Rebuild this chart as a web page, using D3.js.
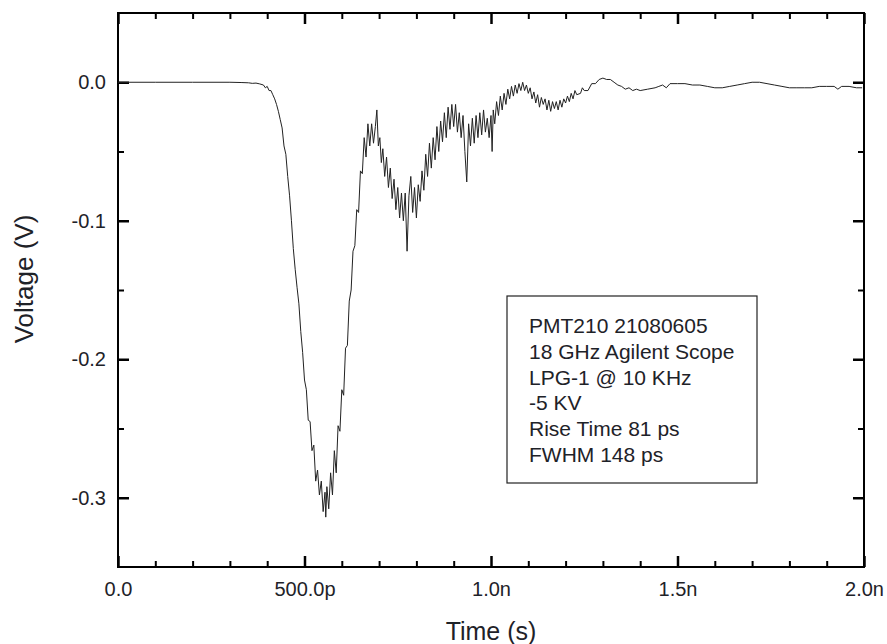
<!DOCTYPE html>
<html>
<head>
<meta charset="utf-8">
<script src="https://cdn.jsdelivr.net/npm/d3@7"></script>
<style>
  body { margin: 0; background: #fff; }
  svg text { font-family: Arial, "Liberation Sans", Helvetica, sans-serif; fill: #1e2228; }
</style>
</head>
<body>
<div id="chart"></div>
<script>
// trace: [time in ps, voltage in V]
const trace = [
  [0, 0], [100, 0], [200, 0], [300, 0], [330, -0.0002], [350, -0.0004], [360, -0.0008], [370, -0.0006],
  [380, -0.0012], [390, -0.002], [395, -0.004], [400, -0.003], [405, -0.006], [410, -0.006],
  [415, -0.009], [420, -0.012], [425, -0.016], [430, -0.021], [435, -0.027], [440, -0.033],
  [445, -0.046], [450, -0.052], [455, -0.068], [460, -0.082], [465, -0.100], [470, -0.120],
  [475, -0.135], [480, -0.148], [485, -0.160], [490, -0.180], [495, -0.195], [500, -0.215],
  [505, -0.222], [510, -0.244], [515, -0.245], [520, -0.266], [525, -0.262], [530, -0.288],
  [535, -0.280], [540, -0.298], [545, -0.288], [550, -0.310], [555, -0.296], [557, -0.314],
  [560, -0.292], [565, -0.308], [570, -0.282], [575, -0.298], [580, -0.266], [585, -0.282],
  [590, -0.248], [595, -0.252], [600, -0.222], [605, -0.226], [610, -0.192], [615, -0.190],
  [620, -0.158], [625, -0.150], [630, -0.122], [635, -0.118], [640, -0.092], [645, -0.094],
  [650, -0.064], [655, -0.066], [660, -0.040], [665, -0.054], [670, -0.030], [675, -0.046],
  [680, -0.030], [685, -0.044], [690, -0.032], [694, -0.020], [698, -0.046], [702, -0.040],
  [706, -0.058], [710, -0.048], [715, -0.068], [720, -0.054], [725, -0.076], [730, -0.062],
  [735, -0.084], [740, -0.070], [745, -0.092], [750, -0.076], [755, -0.098], [760, -0.080],
  [765, -0.100], [770, -0.080], [775, -0.122], [780, -0.082], [785, -0.068], [790, -0.094],
  [795, -0.076], [800, -0.098], [805, -0.074], [810, -0.086], [815, -0.064], [820, -0.078],
  [825, -0.052], [830, -0.068], [835, -0.044], [840, -0.062], [845, -0.040], [850, -0.056],
  [855, -0.032], [860, -0.050], [865, -0.028], [870, -0.043], [875, -0.022], [880, -0.040],
  [885, -0.018], [890, -0.034], [895, -0.016], [900, -0.032], [905, -0.016], [910, -0.036],
  [915, -0.022], [920, -0.040], [925, -0.024], [930, -0.050], [935, -0.072], [940, -0.030],
  [945, -0.046], [950, -0.026], [955, -0.044], [960, -0.024], [965, -0.040], [970, -0.022],
  [975, -0.038], [980, -0.020], [985, -0.036], [990, -0.026], [995, -0.040], [1000, -0.024],
  [1003, -0.050], [1006, -0.020], [1010, -0.030], [1015, -0.014], [1020, -0.024], [1025, -0.010],
  [1030, -0.020], [1035, -0.008], [1040, -0.016], [1045, -0.005], [1050, -0.012], [1055, -0.003],
  [1060, -0.010], [1065, -0.002], [1070, -0.008], [1075, -0.001], [1080, -0.006], [1085, 0.000],
  [1090, -0.006], [1095, -0.002], [1100, -0.008], [1105, -0.004], [1110, -0.012], [1115, -0.007],
  [1120, -0.015], [1125, -0.009], [1130, -0.018], [1135, -0.011], [1140, -0.016], [1145, -0.012],
  [1150, -0.020], [1155, -0.013], [1160, -0.021], [1165, -0.014], [1170, -0.019], [1175, -0.014],
  [1180, -0.020], [1185, -0.013], [1190, -0.018], [1195, -0.012], [1200, -0.015], [1205, -0.010],
  [1210, -0.014], [1215, -0.008], [1220, -0.012], [1225, -0.006], [1230, -0.009], [1240, -0.008],
  [1245, -0.004], [1250, -0.006], [1260, -0.006], [1270, -0.001], [1280, -0.001], [1290, 0.002],
  [1300, 0.003], [1310, 0.002], [1320, 0.002], [1330, 0.000],
  [1340, -0.002], [1350, -0.003], [1360, -0.005], [1370, -0.004], [1380, -0.006], [1390, -0.005],
  [1400, -0.006], [1420, -0.005], [1440, -0.004], [1450, -0.003], [1460, -0.002], [1470, -0.004],
  [1480, -0.001], [1500, -0.001], [1520, -0.001], [1540, -0.002], [1560, -0.002], [1580, -0.003],
  [1600, -0.004], [1620, -0.004], [1640, -0.003], [1660, -0.002], [1680, -0.001], [1700, 0.000],
  [1720, 0.000], [1740, -0.001], [1760, -0.002], [1780, -0.003], [1800, -0.004], [1820, -0.004],
  [1840, -0.004], [1860, -0.004], [1880, -0.003], [1900, -0.003], [1920, -0.003], [1930, -0.005],
  [1940, -0.003], [1960, -0.003], [1980, -0.004], [1995, -0.004]
];

const xMajor = [0, 500, 1000, 1500, 2000];
const xLabels = ["0.0", "500.0p", "1.0n", "1.5n", "2.0n"];
const xMinor = [100, 200, 300, 400, 600, 700, 800, 900, 1100, 1200, 1300, 1400, 1600, 1700, 1800, 1900];
const yMajor = [0, -0.1, -0.2, -0.3];
const yLabels = ["0.0", "-0.1", "-0.2", "-0.3"];
const yMinor = [-0.05, -0.15, -0.25];

const noteLines = [
  "PMT210 21080605",
  "18 GHz Agilent Scope",
  "LPG-1 @ 10 KHz",
  "-5 KV",
  "Rise Time 81 ps",
  "FWHM 148 ps"
];

const W = 887, H = 644;
const margin = {left: 118, top: 13, right: 23, bottom: 77};
const iw = W - margin.left - margin.right;
const ih = H - margin.top - margin.bottom;

let x = d3.scaleLinear().domain([0, 2000]).range([0, iw]);
let y = d3.scaleLinear().domain([-0.35, 0.05]).range([ih, 0]);

let svg = d3.select("#chart").append("svg")
  .attr("width", W)
  .attr("height", H);

let g = svg.append("g")
  .attr("transform", "translate(" + margin.left + "," + margin.top + ")");

function styleAxis(sel, width) {
  sel.select(".domain").remove();
  sel.selectAll("line").attr("stroke", "#000").attr("stroke-width", width);
  sel.selectAll("text").style("font-size", "20px").attr("fill", "#1e2228");
}

// bottom axis, ticks point inward
g.append("g").attr("transform", "translate(0," + ih + ")")
  .call(d3.axisBottom(x).tickValues(xMajor).tickSize(-11).tickPadding(15)
    .tickFormat((d, i) => xLabels[i]))
  .call(styleAxis, 2.5);
g.append("g").attr("transform", "translate(0," + ih + ")")
  .call(d3.axisBottom(x).tickValues(xMinor).tickSize(-6).tickFormat(""))
  .call(styleAxis, 2);

// top axis
g.append("g")
  .call(d3.axisTop(x).tickValues(xMajor).tickSize(-11).tickFormat(""))
  .call(styleAxis, 2.5);
g.append("g")
  .call(d3.axisTop(x).tickValues(xMinor).tickSize(-6).tickFormat(""))
  .call(styleAxis, 2);

// left axis
g.append("g")
  .call(d3.axisLeft(y).tickValues(yMajor).tickSize(-11).tickPadding(12)
    .tickFormat((d, i) => yLabels[i]))
  .call(styleAxis, 2.5);
g.append("g")
  .call(d3.axisLeft(y).tickValues(yMinor).tickSize(-6).tickFormat(""))
  .call(styleAxis, 2);

// right axis
g.append("g").attr("transform", "translate(" + iw + ",0)")
  .call(d3.axisRight(y).tickValues(yMajor).tickSize(-11).tickFormat(""))
  .call(styleAxis, 2.5);
g.append("g").attr("transform", "translate(" + iw + ",0)")
  .call(d3.axisRight(y).tickValues(yMinor).tickSize(-6).tickFormat(""))
  .call(styleAxis, 2);

// frame
g.append("rect")
  .attr("width", iw)
  .attr("height", ih)
  .attr("fill", "none")
  .attr("stroke", "#000")
  .attr("stroke-width", 2);

// the trace
let line = d3.line()
  .x(d => x(d[0]))
  .y(d => y(d[1]));

g.append("path")
  .datum(trace)
  .attr("d", line)
  .attr("fill", "none")
  .attr("stroke", "#222")
  .attr("stroke-width", 1)
  .attr("stroke-linejoin", "round");

// notes box
let note = g.append("g")
  .attr("transform", "translate(" + (507 - margin.left) + "," + (296 - margin.top) + ")");

note.append("rect")
  .attr("width", 250)
  .attr("height", 187)
  .attr("fill", "#fff")
  .attr("stroke", "#222")
  .attr("stroke-width", 1.2);

note.selectAll("text")
  .data(noteLines)
  .enter()
  .append("text")
  .attr("x", 22)
  .attr("y", (d, i) => 37 + i * 25.8)
  .style("font-size", "21px")
  .text(d => d);

// axis titles
svg.append("text")
  .attr("x", margin.left + iw / 2)
  .attr("y", 640)
  .attr("text-anchor", "middle")
  .style("font-size", "25px")
  .text("Time (s)");

svg.append("text")
  .attr("transform", "translate(33,279) rotate(-90)")
  .attr("text-anchor", "middle")
  .style("font-size", "26px")
  .text("Voltage (V)");
</script>
</body>
</html>
